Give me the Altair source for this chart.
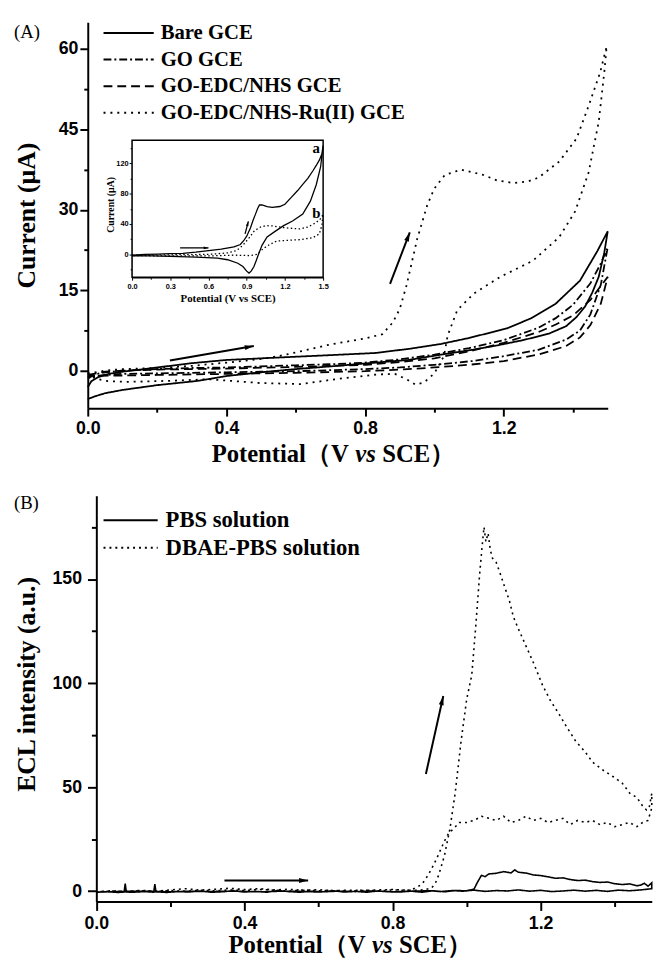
import altair as alt
import pandas as pd

SERIF = "Liberation Serif"
SANS = "Liberation Sans"

# ---------------- Panel A : cyclic voltammograms ----------------
seriesA = ["Bare GCE", "GO GCE", "GO-EDC/NHS GCE", "GO-EDC/NHS-Ru(II) GCE"]

bare_fwd_v = [0.0, 0.01, 0.03, 0.06, 0.1, 0.15, 0.2, 0.3, 0.4, 0.5, 0.6, 0.7, 0.83, 0.93, 1.02, 1.1, 1.21, 1.28, 1.35, 1.42, 1.47, 1.5]
bare_fwd_i = [-3.1, -2.0, -1.2, -0.6, -0.2, 0.2, 0.6, 1.4, 2.0, 2.3, 2.6, 2.9, 3.3, 4.1, 5.0, 6.1, 7.9, 9.8, 12.5, 16.8, 22.3, 26.0]
bare_rev_v = [1.5, 1.49, 1.474, 1.455, 1.435, 1.41, 1.38, 1.33, 1.256, 1.18, 1.11, 1.02, 0.925, 0.83, 0.7, 0.6, 0.5, 0.4, 0.318, 0.2, 0.1, 0.05, 0.02, 0.0]
bare_rev_i = [26.0, 22.0, 17.5, 14.5, 12.0, 10.0, 8.3, 6.9, 5.7, 4.7, 3.9, 3.0, 2.0, 1.5, 0.8, 0.3, -0.3, -1.0, -1.9, -2.7, -3.6, -4.2, -4.8, -5.3]

go_fwd_v = [0.0, 0.02, 0.05, 0.1, 0.2, 0.3, 0.4, 0.5, 0.6, 0.7, 0.8, 0.9, 1.0, 1.1, 1.2, 1.3, 1.35, 1.4, 1.45, 1.48, 1.5]
go_fwd_i = [-1.5, -0.7, -0.3, 0.0, 0.3, 0.5, 0.6, 0.8, 1.0, 1.2, 1.5, 2.1, 3.0, 4.2, 5.7, 8.0, 9.8, 12.3, 16.3, 20.0, 23.0]
go_rev_v = [1.5, 1.48, 1.45, 1.42, 1.38, 1.3, 1.2, 1.11, 1.0, 0.9, 0.8, 0.7, 0.6, 0.5, 0.4, 0.3, 0.2, 0.1, 0.05, 0.0]
go_rev_i = [23.0, 16.0, 10.5, 7.5, 5.8, 3.9, 2.7, 1.8, 1.1, 0.6, 0.3, 0.1, -0.1, -0.2, -0.3, -0.4, -0.5, -0.6, -0.8, -1.2]

edc_fwd_v = [0.0, 0.05, 0.1, 0.2, 0.4, 0.6, 0.8, 0.9, 1.0, 1.1, 1.2, 1.3, 1.35, 1.4, 1.45, 1.48, 1.5]
edc_fwd_i = [-0.8, -0.2, 0.0, 0.2, 0.4, 0.7, 1.1, 1.6, 2.3, 3.6, 5.2, 7.2, 8.6, 10.3, 13.2, 15.8, 17.5]
edc_rev_v = [1.5, 1.48, 1.45, 1.42, 1.38, 1.3, 1.2, 1.1, 1.0, 0.9, 0.8, 0.6, 0.4, 0.2, 0.1, 0.0]
edc_rev_i = [17.5, 12.5, 8.5, 6.2, 4.6, 3.0, 1.8, 1.1, 0.6, 0.2, -0.1, -0.4, -0.6, -0.8, -0.9, -1.0]

ru_fwd_v = [0.0, 0.05, 0.1, 0.2, 0.3, 0.4, 0.5, 0.55, 0.6, 0.7, 0.8, 0.85, 0.88, 0.9, 0.92, 0.95, 0.98, 1.0, 1.03, 1.077, 1.142, 1.18, 1.227, 1.27, 1.3, 1.36, 1.41, 1.445, 1.478, 1.497]
ru_fwd_i = [-0.5, 0.0, 0.3, 0.5, 0.9, 1.5, 2.2, 2.7, 3.4, 4.9, 6.0, 6.8, 9.0, 11.5, 16.0, 24.5, 31.0, 34.0, 36.5, 37.5, 36.5, 35.5, 35.0, 35.3, 36.0, 39.0, 43.3, 49.4, 55.6, 60.5]
ru_rev_v = [1.497, 1.49, 1.474, 1.445, 1.406, 1.36, 1.284, 1.19, 1.114, 1.066, 1.038, 1.028, 1.0, 0.97, 0.945, 0.92, 0.886, 0.834, 0.713, 0.617, 0.496, 0.35, 0.23, 0.11, 0.05, 0.02, 0.0]
ru_rev_i = [60.5, 55.6, 46.4, 37.0, 29.7, 24.9, 20.5, 17.5, 14.4, 11.3, 6.5, 2.8, -0.5, -2.2, -2.6, -1.6, -0.6, -0.7, -1.6, -2.5, -2.3, -1.6, -1.9, -2.1, -1.9, -1.4, -0.5]

# arrows in panel A (start V, start I, end V, end I)
arrA_v0 = [0.237, 0.872]
arrA_i0 = [1.9, 16.2]
arrA_v1 = [0.479, 0.929]
arrA_i1 = [4.6, 25.8]

# axis title pieces (the "vs" is italic)
xtitle_parts = ["Potential（V", "vs", "SCE）"]

# ---------------- Panel A inset ----------------
inset_x_domain = [0.0, 1.5]
inset_y_domain = [-30, 150]
ins_a_fwd_v = [0.0, 0.1, 0.2, 0.3, 0.4, 0.5, 0.6, 0.7, 0.8, 0.85, 0.876, 0.9, 0.93, 0.95, 0.969, 0.985, 1.0, 1.02, 1.06, 1.1, 1.16, 1.2, 1.25, 1.3, 1.34, 1.38, 1.42, 1.446, 1.47, 1.49, 1.5]
ins_a_fwd_i = [-1, 0, 0.5, 1, 1.5, 3, 5, 7, 10, 13, 18, 24, 35, 45, 53, 60, 65, 65, 63, 62, 63, 66, 75, 84, 92, 100, 110, 117, 124, 132, 143]
ins_a_rev_v = [1.5, 1.48, 1.446, 1.4, 1.34, 1.26, 1.19, 1.12, 1.06, 1.02, 0.995, 0.975, 0.957, 0.935, 0.918, 0.9, 0.87, 0.83, 0.75, 0.67, 0.5, 0.3, 0.155, 0.0]
ins_a_rev_i = [143, 115, 91.6, 70, 53, 44, 37.8, 30, 23, 12, 1.3, -8, -16, -22, -24.5, -22, -16, -11.6, -7, -5, -3.5, -2.5, -2, -2]
ins_b_fwd_v = [0.0, 0.3, 0.6, 0.75, 0.82, 0.87, 0.92, 0.96, 1.008, 1.05, 1.1, 1.2, 1.317, 1.38, 1.446, 1.48, 1.5]
ins_b_fwd_i = [-1, -0.5, 0, 2, 5, 12, 22, 31, 36, 37.8, 37.5, 35, 33.5, 36, 42, 47, 53]
ins_b_rev_v = [1.5, 1.49, 1.47, 1.42, 1.317, 1.22, 1.137, 1.08, 1.03, 0.98, 0.93, 0.8, 0.6, 0.3, 0.0]
ins_b_rev_i = [53, 38, 27, 22, 19.4, 18.5, 17.7, 13, 7.7, 0, -1.5, -1, -2, -2, -1.5]
insArr_v0 = [0.377, 0.887]
insArr_i0 = [8.6, 27.0]
insArr_v1 = [0.600, 0.913]
insArr_i1 = [8.6, 43.5]
ins_lab_text = ["a", "b"]
ins_lab_v = [1.446, 1.446]
ins_lab_i = [140, 55]

# ---------------- Panel B : ECL ----------------
seriesB = ["PBS solution", "DBAE-PBS solution"]
pbs_fwd_v = [0.0, 0.03, 0.06, 0.075, 0.078, 0.081, 0.1, 0.13, 0.155, 0.158, 0.161, 0.19, 0.22, 0.25, 0.28, 0.31, 0.34, 0.37, 0.40, 0.43, 0.46, 0.49, 0.52, 0.55, 0.58, 0.61, 0.64, 0.67, 0.70, 0.73, 0.76, 0.79, 0.82, 0.85, 0.88, 0.91, 0.94, 0.97, 1.00, 1.02, 1.03, 1.04, 1.05, 1.06, 1.08, 1.10, 1.12, 1.13, 1.14, 1.16, 1.18, 1.20, 1.22, 1.24, 1.26, 1.28, 1.30, 1.32, 1.34, 1.36, 1.38, 1.40, 1.42, 1.44, 1.46, 1.47, 1.48, 1.49, 1.50]
pbs_fwd_i = [-0.5, -0.3, -0.6, -0.4, 3.6, -0.4, -0.5, -0.2, -0.5, 3.4, -0.3, -0.6, -0.2, -0.4, 0.1, -0.5, -0.3, 0.2, -0.4, -0.1, -0.5, 0.3, -0.2, -0.5, 0.0, -0.3, 0.2, -0.4, -0.1, -0.5, 0.1, -0.3, -0.4, 0.0, -0.5, 0.2, -0.3, 0.3, 0.2, 1.0, 4.5, 7.6, 7.0, 8.3, 8.6, 9.4, 8.8, 10.2, 9.1, 8.7, 7.8, 7.5, 6.9, 6.2, 6.4, 5.6, 5.1, 5.3, 4.6, 4.2, 4.4, 3.6, 3.2, 3.5, 2.6, 2.9, 3.8, 2.4, 4.0]
pbs_rev_v = [1.50, 1.47, 1.44, 1.41, 1.38, 1.35, 1.32, 1.29, 1.26, 1.23, 1.20, 1.17, 1.14, 1.11, 1.08, 1.05, 1.02, 0.99, 0.96, 0.93, 0.90, 0.85, 0.80, 0.75, 0.70, 0.65, 0.60, 0.55, 0.50, 0.45, 0.40, 0.35, 0.30, 0.25, 0.20, 0.15, 0.10, 0.05, 0.00]
pbs_rev_i = [1.2, 0.6, 0.2, 0.5, -0.1, 0.4, 0.0, 0.5, 0.1, -0.2, 0.4, 0.0, 0.6, 0.1, 0.3, -0.1, 0.5, 0.0, 0.3, -0.2, 0.2, 0.0, -0.3, 0.1, -0.2, 0.0, -0.4, -0.1, 0.0, -0.3, -0.1, 0.0, -0.2, 0.0, -0.3, -0.1, 0.0, -0.2, -0.4]

dbae_fwd_v = [0.00, 0.04, 0.08, 0.12, 0.16, 0.20, 0.24, 0.28, 0.32, 0.36, 0.40, 0.44, 0.48, 0.52, 0.56, 0.60, 0.64, 0.68, 0.72, 0.76, 0.80, 0.84, 0.87, 0.89, 0.905, 0.915, 0.925, 0.94, 0.955, 0.969, 0.985, 1.000, 1.014, 1.025, 1.035, 1.042, 1.047, 1.052, 1.058, 1.064, 1.070, 1.080, 1.092, 1.105, 1.115, 1.126, 1.140, 1.160, 1.180, 1.205, 1.225, 1.250, 1.270, 1.295, 1.320, 1.340, 1.370, 1.396, 1.420, 1.441, 1.460, 1.475, 1.486, 1.493, 1.500]
dbae_fwd_i = [-0.3, 0.2, -0.2, 0.4, 0.0, 0.6, 1.2, 0.5, 0.9, 1.4, 0.8, 1.2, 0.6, 0.9, 0.4, 0.7, 0.2, 0.5, 0.3, 0.6, 0.8, 0.5, 0.4, 0.8, 1.5, 3.5, 8.0, 17.0, 30.0, 47.0, 72.0, 92.0, 104.0, 128.0, 152.0, 166.0, 175.0, 168.0, 172.0, 164.0, 160.0, 158.0, 152.0, 145.0, 140.0, 132.0, 126.0, 118.0, 110.0, 99.0, 92.0, 85.0, 79.0, 72.0, 67.0, 62.0, 58.0, 55.0, 52.0, 47.0, 45.0, 41.0, 39.0, 40.0, 47.0]
dbae_rev_v = [1.500, 1.490, 1.475, 1.460, 1.440, 1.420, 1.400, 1.380, 1.360, 1.340, 1.320, 1.300, 1.280, 1.260, 1.240, 1.220, 1.200, 1.180, 1.160, 1.140, 1.120, 1.100, 1.080, 1.060, 1.040, 1.020, 1.000, 0.980, 0.965, 0.952, 0.940, 0.930, 0.920, 0.912, 0.900, 0.890, 0.880, 0.867, 0.855, 0.840, 0.800, 0.760, 0.720, 0.680, 0.640, 0.600, 0.560, 0.520, 0.480, 0.440, 0.400, 0.360, 0.320, 0.280, 0.240, 0.200, 0.160, 0.120, 0.080, 0.040, 0.000]
dbae_rev_i = [40, 34, 33, 31, 33, 32, 31, 33, 32, 34, 33, 34, 32, 35, 34, 33, 35, 34, 36, 34, 33, 36, 34, 35, 36, 34, 33, 33, 30, 28, 24, 20, 16, 13, 9, 6, 3.5, 2, 1, 0.4, 0.6, 0.2, 0.5, -0.1, 0.4, 0.2, 0.6, 0.1, 0.5, 0.8, 0.3, 0.6, 0.2, 0.5, 0.0, 0.3, -0.2, 0.2, -0.1, 0.1, -0.3]

arrB_v0 = [0.346, 0.890]
arrB_i0 = [5.1, 56.3]
arrB_v1 = [0.572, 0.937]
arrB_i1 = [5.1, 93.8]


def cv(name, fv, fi, rv, ri, key="series"):
    vs = list(fv) + list(rv)
    cs = list(fi) + list(ri)
    return pd.DataFrame({key: name, "idx": list(range(len(vs))), "V": vs, "I": cs})


dfA = pd.concat([
    cv(seriesA[0], bare_fwd_v, bare_fwd_i, bare_rev_v, bare_rev_i),
    cv(seriesA[1], go_fwd_v, go_fwd_i, go_rev_v, go_rev_i),
    cv(seriesA[2], edc_fwd_v, edc_fwd_i, edc_rev_v, edc_rev_i),
    cv(seriesA[3], ru_fwd_v, ru_fwd_i, ru_rev_v, ru_rev_i),
], ignore_index=True)
dfIa = cv("a", ins_a_fwd_v, ins_a_fwd_i, ins_a_rev_v, ins_a_rev_i)
dfIb = cv("b", ins_b_fwd_v, ins_b_fwd_i, ins_b_rev_v, ins_b_rev_i)
dfB = pd.concat([
    cv(seriesB[0], pbs_fwd_v, pbs_fwd_i, pbs_rev_v, pbs_rev_i, key="solution"),
    cv(seriesB[1], dbae_fwd_v, dbae_fwd_i, dbae_rev_v, dbae_rev_i, key="solution"),
], ignore_index=True)

HEAD = "M0,0L0.6,2.2L-0.6,2.2Z"
LEGLINE = "M-1,0L1,0"


def cond(test, a, b):
    return {"condition": {"test": test, "value": a}, "value": b}


def xtitle(xc, y):
    """Three text pieces of the x-axis title, 'vs' centred at xc (px from plot left)."""
    tdf = pd.DataFrame({"t": xtitle_parts})
    base = dict(font=SERIF, fontSize=25, fontWeight="bold", color="black", baseline="alphabetic")
    p1 = alt.Chart(tdf.iloc[[0]]).mark_text(align="right", **base).encode(
        x=alt.value(xc - 17), y=alt.value(y), text="t:N")
    p2 = alt.Chart(tdf.iloc[[1]]).mark_text(align="center", fontStyle="italic", **base).encode(
        x=alt.value(xc), y=alt.value(y), text="t:N")
    p3 = alt.Chart(tdf.iloc[[2]]).mark_text(align="left", **base).encode(
        x=alt.value(xc + 17), y=alt.value(y), text="t:N")
    return [p1, p2, p3]


xticks = [0.0, 0.2, 0.4, 0.6, 0.8, 1.0, 1.2, 1.4]
xtest = "round(datum.value*10) % 4 == 0"

common_axis = dict(grid=False, domainWidth=2, tickWidth=2, domainColor="black", tickColor="black",
                   labelColor="black", titleColor="black", labelFlush=False, labelOverlap=False,
                   labelFont=SANS, labelFontWeight="bold", labelFontSize=18,
                   titleFont=SERIF, titleFontWeight="bold")

# ---------- Panel A axes / encodings ----------
axA_x = alt.Axis(title=None, values=xticks, format=".1f",
                 labelExpr=f"{xtest} ? datum.label : ''", tickSize=cond(xtest, 8, 4),
                 labelPadding=4, **common_axis)
ytestA = "datum.value % 15 == 0"
axA_y = alt.Axis(title="Current (µA)", values=[0, 7.5, 15, 22.5, 30, 37.5, 45, 52.5, 60],
                 labelExpr=f"{ytestA} ? datum.label : ''", tickSize=cond(ytestA, 8, 4),
                 labelPadding=2, titleFontSize=26, titleX=-62, titleY=196, titleAngle=270,
                 titleAlign="center", titleBaseline="middle", **common_axis)
sxA = alt.Scale(domain=[0, 1.5], nice=False, zero=False)
syA = alt.Scale(domain=[-7, 65], nice=False, zero=False)
xA = alt.X("V:Q", scale=sxA, axis=axA_x)
yA = alt.Y("I:Q", scale=syA, axis=axA_y)
xA2 = alt.X("V2:Q", scale=sxA, axis=axA_x)
yA2 = alt.Y("I2:Q", scale=syA, axis=axA_y)

legA = alt.Legend(title=None, orient="none", legendX=15, legendY=-2.5, symbolType=LEGLINE,
                  symbolSize=2601, symbolStrokeWidth=2, symbolStrokeColor="black",
                  symbolFillColor="transparent",
                  labelFont=SERIF, labelFontSize=21, labelFontWeight="bold", labelColor="black",
                  labelOffset=6, clipHeight=27, rowPadding=0, padding=0, labelLimit=500)

linesA = alt.Chart(dfA).mark_line(color="black", strokeWidth=1.8).encode(
    x=xA, y=yA, order="idx:Q",
    strokeDash=alt.StrokeDash("series:N", scale=alt.Scale(domain=seriesA,
                              range=[[1, 0], [8, 3, 2, 3], [9, 5], [2, 5]]), legend=legA))

arrA = pd.DataFrame({"V": arrA_v0, "I": arrA_i0, "V2": arrA_v1, "I2": arrA_i1})
shaftA = alt.Chart(arrA).mark_rule(color="black", strokeWidth=2).encode(x=xA, y=yA, x2="V2", y2="I2")
headA1 = alt.Chart(arrA.iloc[[0]]).mark_point(shape=HEAD, filled=True, size=70, angle=80, color="black", opacity=1).encode(x=xA2, y=yA2)
headA2 = alt.Chart(arrA.iloc[[1]]).mark_point(shape=HEAD, filled=True, size=70, angle=21, color="black", opacity=1).encode(x=xA2, y=yA2)
tagA = alt.Chart(pd.DataFrame({"t": ["(A)"]})).mark_text(font=SERIF, fontSize=19, align="left", baseline="middle", color="black").encode(
    x=alt.value(-75), y=alt.value(10), text="t:N")

mainA = alt.layer(linesA, shaftA, headA1, headA2, tagA, *xtitle(282, 447))

# ---------- inset ----------
ixtest = "round(datum.value*100) % 30 == 0"
iytest = "datum.value % 40 == 0"
inset_axis = dict(grid=False, domainWidth=1.5, tickWidth=1, domainColor="black", tickColor="black",
                  labelColor="black", titleColor="black", labelFlush=False, labelOverlap=False,
                  labelFont=SANS, labelFontWeight="bold", labelFontSize=7.5,
                  titleFont=SERIF, titleFontWeight="bold")
axI_x = alt.Axis(orient="bottom", offset=-133, title="Potential (V vs SCE)",
                 values=[0, 0.15, 0.3, 0.45, 0.6, 0.75, 0.9, 1.05, 1.2, 1.35, 1.5], format=".1f",
                 labelExpr=f"{ixtest} ? datum.label : ''", tickSize=cond(ixtest, 3, 2),
                 labelPadding=2, titleFontSize=11, titlePadding=3, **inset_axis)
axI_y = alt.Axis(orient="left", offset=-45, title="Current (µA)",
                 values=[-20, 0, 20, 40, 60, 80, 100, 120, 140],
                 labelExpr=f"{iytest} ? datum.label : ''", tickSize=cond(iytest, 3, 2),
                 labelPadding=1, titleFontSize=10, titleX=-22, titleY=185, titleAngle=270,
                 titleAlign="center", titleBaseline="middle", **inset_axis)
sxI = alt.Scale(domain=inset_x_domain, range=[45, 239], nice=False, zero=False)
syI = alt.Scale(domain=inset_y_domain, range=[259, 120], nice=False, zero=False)
xI = alt.X("V:Q", scale=sxI, axis=axI_x)
yI = alt.Y("I:Q", scale=syI, axis=axI_y)
xI2 = alt.X("V2:Q", scale=sxI, axis=axI_x)
yI2 = alt.Y("I2:Q", scale=syI, axis=axI_y)

boxI = alt.Chart(pd.DataFrame({"V": [inset_x_domain[0]], "V2": [inset_x_domain[1]],
                               "I": [inset_y_domain[0]], "I2": [inset_y_domain[1]]})).mark_rect(
    fill="white", stroke="black", strokeWidth=1.5).encode(x=xI, x2="V2", y=yI, y2="I2")
lineIa = alt.Chart(dfIa).mark_line(color="black", strokeWidth=1.3).encode(x=xI, y=yI, order="idx:Q")
lineIb = alt.Chart(dfIb).mark_line(color="black", strokeWidth=1.3, strokeDash=[1.5, 2.5]).encode(x=xI, y=yI, order="idx:Q")
arrI = pd.DataFrame({"V": insArr_v0, "I": insArr_i0, "V2": insArr_v1, "I2": insArr_i1})
shaftI = alt.Chart(arrI).mark_rule(color="black", strokeWidth=1.3).encode(x=xI, y=yI, x2="V2", y2="I2")
headI1 = alt.Chart(arrI.iloc[[0]]).mark_point(shape=HEAD, filled=True, size=20, angle=90, color="black", opacity=1).encode(x=xI2, y=yI2)
headI2 = alt.Chart(arrI.iloc[[1]]).mark_point(shape=HEAD, filled=True, size=20, angle=15, color="black", opacity=1).encode(x=xI2, y=yI2)
labI = alt.Chart(pd.DataFrame({"V": ins_lab_v, "I": ins_lab_i, "t": ins_lab_text})).mark_text(
    font=SERIF, fontSize=15, fontWeight="bold", color="black").encode(x=xI, y=yI, text="t:N")

insetA = alt.layer(boxI, lineIa, lineIb, shaftI, headI1, headI2, labI)

topA = alt.layer(mainA, insetA).resolve_scale(x="independent", y="independent").properties(width=528, height=392)

# ---------- Panel B ----------
# plot areas of both panels share their left edge; panel B's axis sits 8.7 px further right
B_SHIFT = 8.7
B_WIDTH = 564
axB_x = alt.Axis(title=None, values=xticks, format=".1f",
                 labelExpr=f"{xtest} ? datum.label : ''", tickSize=cond(xtest, 9, 5),
                 labelPadding=4, **common_axis)
ytestB = "datum.value % 50 == 0"
axB_y = alt.Axis(title="ECL intensity (a.u.)", values=[0, 25, 50, 75, 100, 125, 150, 175],
                 labelExpr=f"{ytestB} ? datum.label : ''", tickSize=cond(ytestB, 9, 5),
                 offset=-B_SHIFT, labelPadding=6, titleFontSize=26, titleX=-70.7, titleY=191, titleAngle=270,
                 titleAlign="center", titleBaseline="middle", **common_axis)
sxB = alt.Scale(domain=[0, 1.5], range=[B_SHIFT, B_SHIFT + B_WIDTH], nice=False, zero=False)
syB = alt.Scale(domain=[-5, 190], nice=False, zero=False)
xB = alt.X("V:Q", scale=sxB, axis=axB_x)
yB = alt.Y("I:Q", scale=syB, axis=axB_y)
xB2 = alt.X("V2:Q", scale=sxB, axis=axB_x)
yB2 = alt.Y("I2:Q", scale=syB, axis=axB_y)

legB = alt.Legend(title=None, orient="none", legendX=15, legendY=10.7, symbolType=LEGLINE,
                  symbolSize=3025, symbolStrokeWidth=2, symbolStrokeColor="black",
                  symbolFillColor="transparent",
                  labelFont=SERIF, labelFontSize=23, labelFontWeight="bold", labelColor="black",
                  labelOffset=7, clipHeight=28, rowPadding=0, padding=0, labelLimit=500)
linesB = alt.Chart(dfB).mark_line(color="black", strokeWidth=1.6).encode(
    x=xB, y=yB, order="idx:Q",
    strokeDash=alt.StrokeDash("solution:N", scale=alt.Scale(domain=seriesB, range=[[1, 0], [2, 4]]), legend=legB))
arrB = pd.DataFrame({"V": arrB_v0, "I": arrB_i0, "V2": arrB_v1, "I2": arrB_i1})
shaftB = alt.Chart(arrB).mark_rule(color="black", strokeWidth=2).encode(x=xB, y=yB, x2="V2", y2="I2")
headB1 = alt.Chart(arrB.iloc[[0]]).mark_point(shape=HEAD, filled=True, size=70, angle=90, color="black", opacity=1).encode(x=xB2, y=yB2)
headB2 = alt.Chart(arrB.iloc[[1]]).mark_point(shape=HEAD, filled=True, size=70, angle=13, color="black", opacity=1).encode(x=xB2, y=yB2)
tagB = alt.Chart(pd.DataFrame({"t": ["(B)"]})).mark_text(font=SERIF, fontSize=19, align="left", baseline="middle", color="black").encode(
    x=alt.value(-75), y=alt.value(7), text="t:N")

botB = alt.layer(linesB, shaftB, headB1, headB2, tagB, *xtitle(299, 464)).properties(width=B_SHIFT + B_WIDTH, height=412)

chart = alt.concat(topA, botB, columns=1, spacing=27, align="none").resolve_scale(
    strokeDash="independent").resolve_legend(strokeDash="independent").properties(
    padding={"left": 5, "top": 4, "right": 0, "bottom": 0}
).configure_view(stroke=None)

chart.save("out.html", embed_options={"renderer": "svg", "actions": False})
